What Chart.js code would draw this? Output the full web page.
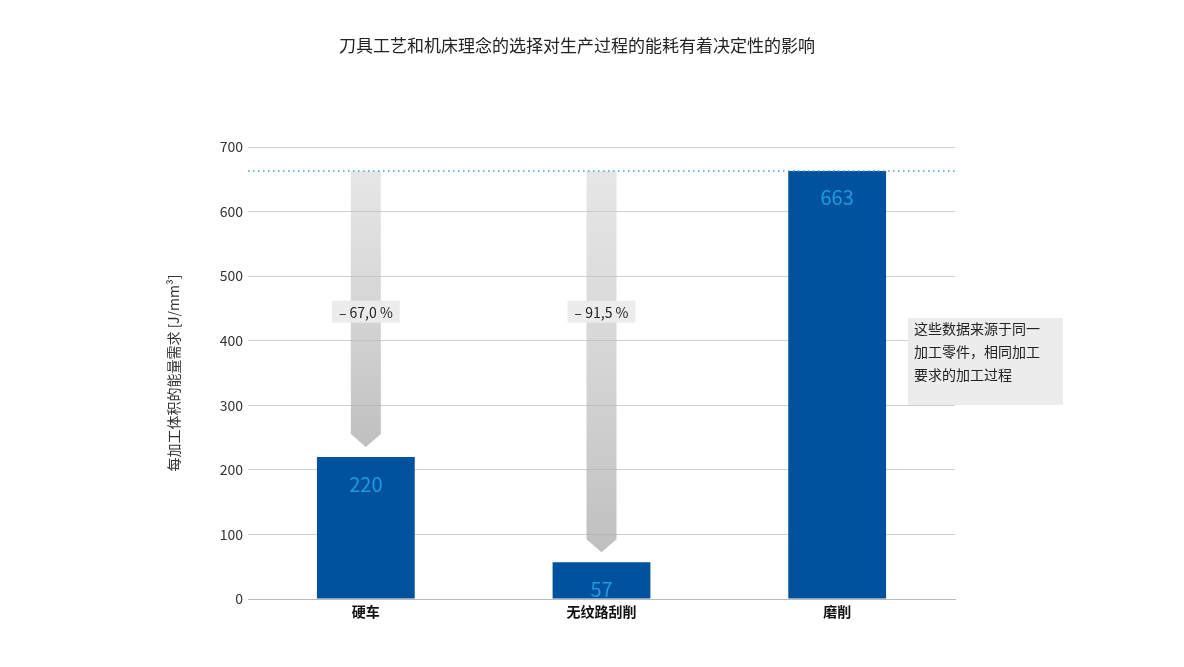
<!DOCTYPE html>
<html><head><meta charset="utf-8">
<script src="https://cdn.jsdelivr.net/npm/chart.js@4.4.0/dist/chart.umd.min.js"></script>
<style>html,body{margin:0;padding:0;background:#fff}#w{width:1184px;height:667px}</style>
</head><body><div id="w"><canvas id="c"></canvas></div>
<script>
const categories = ['硬车', '无纹路刮削', '磨削'];
const values = [220, 57, 663];
const reductions = ['– 67,0 %', '– 91,5 %', null];
const yTicks = [0, 100, 200, 300, 400, 500, 600, 700];
const F = '"Noto Sans CJK SC","Noto Sans",sans-serif';

const deco = {
  id: 'deco',
  beforeDatasetsDraw(ch) {
    const {ctx, scales: {x, y}, chartArea: a} = ch;
    const maxV = Math.max(...values);
    const yTop = y.getPixelForValue(maxV);
    ctx.save();
    // arrows
    values.forEach((v, i) => {
      if (!reductions[i]) return;
      const cx = x.getPixelForValue(i);
      const tip = y.getPixelForValue(v) - 10;
      const body = tip - 13;
      const g = ctx.createLinearGradient(0, yTop, 0, tip);
      g.addColorStop(0, 'rgba(200,200,200,0.45)');
      g.addColorStop(1, 'rgba(170,170,170,0.75)');
      ctx.fillStyle = g;
      ctx.beginPath();
      ctx.moveTo(cx - 15, yTop); ctx.lineTo(cx + 15, yTop);
      ctx.lineTo(cx + 15, body); ctx.lineTo(cx, tip); ctx.lineTo(cx - 15, body);
      ctx.closePath(); ctx.fill();
      // label
      const ly = y.getPixelForValue(445);
      ctx.font = '14px ' + F;
      const tw = ctx.measureText(reductions[i]).width;
      ctx.fillStyle = '#ececec';
      ctx.fillRect(cx - tw / 2 - 7, ly - 11, tw + 14, 22);
      ctx.fillStyle = '#222'; ctx.textAlign = 'center'; ctx.textBaseline = 'middle';
      ctx.fillText(reductions[i], cx, ly + 1);
    });
    ctx.restore();
  },
  afterDatasetsDraw(ch) {
    const {ctx, scales: {x, y}, chartArea: a} = ch;
    ctx.save();
    const maxV = Math.max(...values);
    const yTop = y.getPixelForValue(maxV);
    ctx.strokeStyle = '#3aa0d8'; ctx.lineWidth = 1.5; ctx.setLineDash([1.5, 3.5]);
    ctx.beginPath(); ctx.moveTo(a.left, yTop); ctx.lineTo(a.right, yTop); ctx.stroke();
    ctx.setLineDash([]);
    // value labels
    ctx.font = '20px ' + F; ctx.fillStyle = '#1e9be0'; ctx.textAlign = 'center'; ctx.textBaseline = 'middle';
    values.forEach((v, i) => {
      ctx.fillText(String(v), x.getPixelForValue(i), y.getPixelForValue(v) + 27);
    });
    // title
    ctx.font = '17px ' + F; ctx.fillStyle = '#222';
    ctx.fillText('刀具工艺和机床理念的选择对生产过程的能耗有着决定性的影响', 577, 46);
    // y title
    ctx.save(); ctx.translate(174, 373); ctx.rotate(-Math.PI / 2);
    ctx.font = '14px ' + F; ctx.fillStyle = '#333';
    ctx.fillText('每加工体积的能量需求 [J/mm³]', 0, 0); ctx.restore();
    // note box
    ctx.fillStyle = '#ececec'; ctx.fillRect(908, 318, 155, 87);
    ctx.fillStyle = '#222'; ctx.textAlign = 'left'; ctx.font = '14px ' + F;
    ['这些数据来源于同一', '加工零件，相同加工', '要求的加工过程'].forEach((t, k) => ctx.fillText(t, 914, 329 + k * 23));
    ctx.restore();
  }
};

new Chart(document.getElementById('c'), {
  type: 'bar',
  data: { labels: categories, datasets: [{ data: values, backgroundColor: '#00519e', barPercentage: 0.83, categoryPercentage: 0.5 }] },
  options: {
    responsive: true, maintainAspectRatio: false, animation: false,
    layout: { padding: { top: 147, right: 229, bottom: 0, left: 0 } },
    plugins: { legend: { display: false }, tooltip: { enabled: false } },
    scales: {
      x: {
        afterFit(s) { s.height = 68; },
        grid: { display: false, drawTicks: false },
        border: { color: '#bbb' },
        ticks: { color: '#111', font: { family: F, size: 14, weight: 'bold' }, padding: 4 }
      },
      y: {
        min: 0, max: 700,
        afterFit(s) { s.width = 248; },
        afterBuildTicks(s) { s.ticks = yTicks.map(v => ({ value: v })); },
        grid: { color: '#d0d0d0', drawTicks: false },
        border: { display: false },
        ticks: { color: '#333', font: { family: F, size: 14 }, padding: 5 }
      }
    }
  },
  plugins: [deco]
});
</script></body></html>
